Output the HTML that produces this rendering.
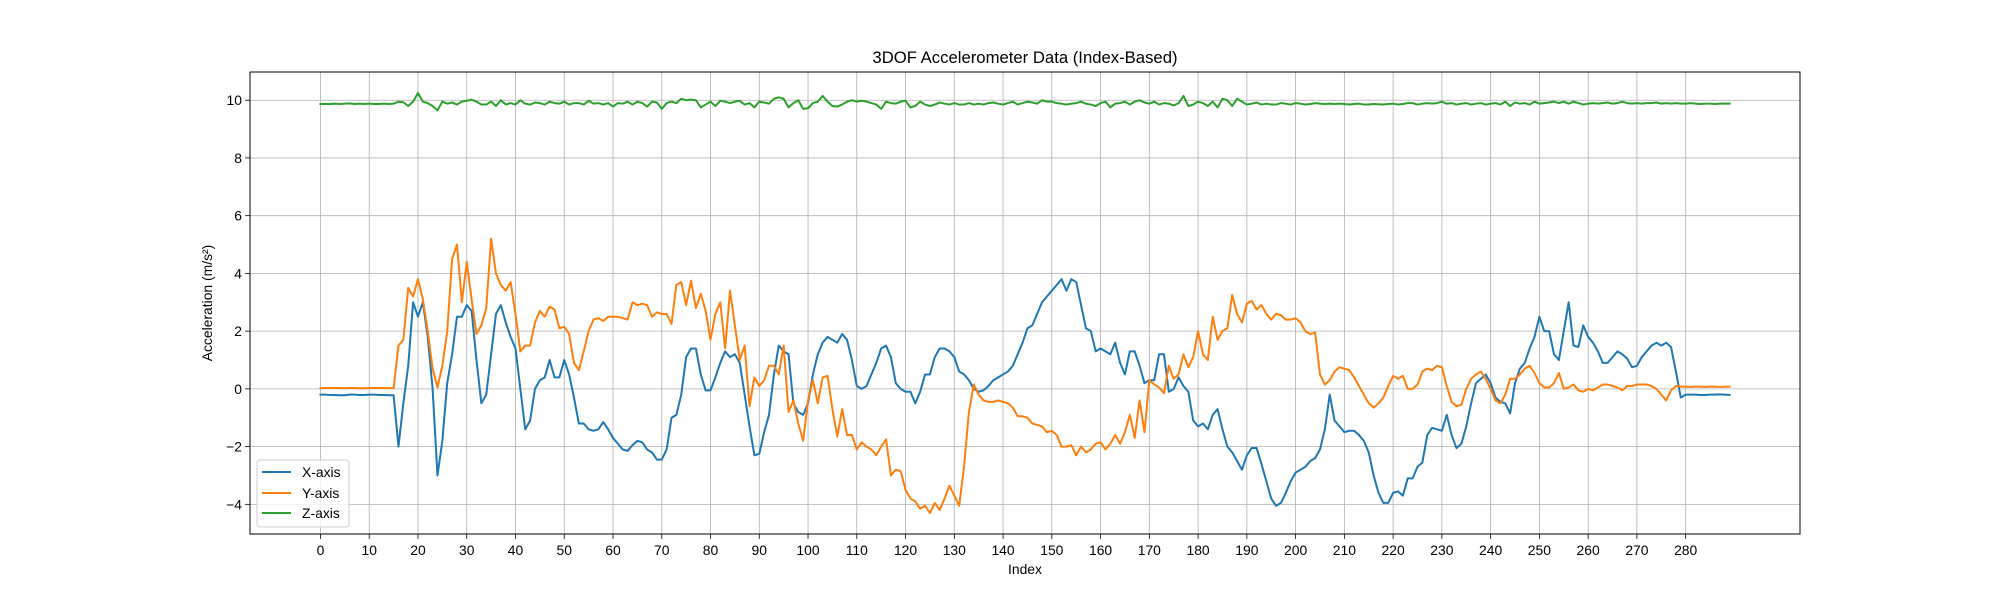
<!DOCTYPE html>
<html><head><meta charset="utf-8"><style>
html,body{margin:0;padding:0;background:#fff;}
svg{display:block;font-family:"Liberation Sans","DejaVu Sans",sans-serif;}
</style></head><body>
<svg id="chart" width="2000" height="600" xmlns="http://www.w3.org/2000/svg">
<rect width="2000" height="600" fill="#fff"/>
<text x="1025" y="63" font-size="16.7" text-anchor="middle" fill="#000">3DOF Accelerometer Data (Index-Based)</text>
<g id="grid"></g>
<g id="series"></g>
<rect x="250" y="72" width="1550" height="462" fill="none" stroke="#000" stroke-width="1"/>
<g id="ticks"></g>
<text x="1025" y="574" font-size="13.9" text-anchor="middle">Index</text>
<text transform="translate(212,303) rotate(-90)" font-size="13.9" text-anchor="middle">Acceleration (m/s²)</text>
<g>
<rect x="257" y="460" width="92" height="67" rx="3" fill="#fff" fill-opacity="0.8" stroke="#ccc"/>
<line x1="262" y1="472" x2="291" y2="472" stroke="#1f77b4" stroke-width="2"/>
<text x="302" y="477" font-size="13.9">X-axis</text>
<line x1="262" y1="493" x2="291" y2="493" stroke="#ff7f0e" stroke-width="2"/>
<text x="302" y="498" font-size="13.9">Y-axis</text>
<line x1="262" y1="513" x2="291" y2="513" stroke="#2ca02c" stroke-width="2"/>
<text x="302" y="518" font-size="13.9">Z-axis</text>
</g>
</svg>
<script>
const xTicks = [0,10,20,30,40,50,60,70,80,90,100,110,120,130,140,150,160,170,180,190,200,210,220,230,240,250,260,270,280];
const yTicks = [-4,-2,0,2,4,6,8,10];
const xSeries = [-0.2,-0.2,-0.21,-0.21,-0.22,-0.22,-0.2,-0.2,-0.21,-0.21,-0.2,-0.2,-0.21,-0.21,-0.22,-0.22,
-2.0,-0.5,0.8,3.0,2.5,3.0,1.8,0.0,-3.0,-1.8,0.2,1.2,2.5,2.5,2.9,2.7,1.0,-0.5,-0.2,1.2,2.6,2.9,2.3,1.8,1.4,0.0,-1.4,-1.1,0.0,0.3,0.4,1.0,0.4,0.4,1.0,0.5,-0.3,-1.2,-1.2,-1.4,-1.45,-1.4,-1.15,-1.4,-1.7,-1.9,-2.1,-2.15,-1.95,-1.8,-1.85,-2.1,-2.2,-2.45,-2.45,-2.1,-1.0,-0.9,-0.2,1.1,1.4,1.4,0.5,-0.05,-0.05,0.4,0.9,1.3,1.1,1.2,0.9,-0.2,-1.3,-2.3,-2.25,-1.5,-0.9,0.5,1.5,1.3,1.2,-0.5,-0.8,-0.9,-0.5,0.5,1.2,1.6,1.8,1.7,1.6,1.9,1.7,1.0,0.1,0.0,0.1,0.5,0.9,1.4,1.5,1.1,0.2,0.0,-0.1,-0.1,-0.5,-0.1,0.5,0.5,1.1,1.4,1.4,1.3,1.1,0.6,0.5,0.3,0.0,-0.1,-0.05,0.1,0.3,0.4,0.5,0.6,0.8,1.2,1.6,2.1,2.2,2.6,3.0,3.2,3.4,3.6,3.8,3.4,3.8,3.7,2.9,2.1,2.0,1.3,1.4,1.3,1.2,1.6,0.9,0.5,1.3,1.3,0.8,0.2,0.3,0.3,1.2,1.2,-0.1,0.0,0.4,0.1,-0.1,-1.1,-1.3,-1.2,-1.4,-0.9,-0.7,-1.4,-2.0,-2.2,-2.5,-2.8,-2.3,-2.05,-2.05,-2.6,-3.2,-3.8,-4.05,-3.95,-3.6,-3.2,-2.9,-2.8,-2.7,-2.5,-2.4,-2.1,-1.4,-0.2,-1.1,-1.3,-1.5,-1.45,-1.45,-1.6,-1.8,-2.2,-3.0,-3.6,-3.95,-3.95,-3.6,-3.55,-3.7,-3.1,-3.1,-2.7,-2.55,-1.6,-1.35,-1.4,-1.45,-0.9,-1.6,-2.05,-1.9,-1.3,-0.5,0.2,0.35,0.5,0.2,-0.3,-0.45,-0.5,-0.85,0.2,0.7,0.9,1.4,1.8,2.5,2.0,2.0,1.2,1.0,2.0,3.0,1.5,1.45,2.2,1.8,1.6,1.3,0.9,0.9,1.1,1.3,1.2,1.05,0.75,0.8,1.1,1.3,1.5,1.6,1.5,1.6,1.45,0.6,-0.3,-0.2,
-0.2,-0.2,-0.21,-0.21,-0.2,-0.2,-0.19,-0.2,-0.21];
const ySeries = [0.02,0.03,0.03,0.03,0.03,0.02,0.03,0.03,0.02,0.02,0.03,0.03,0.03,0.03,0.02,0.03,
1.5,1.7,3.5,3.2,3.8,3.1,2.0,0.7,0.05,0.8,2.0,4.5,5.0,3.0,4.4,3.1,1.9,2.2,2.8,5.2,4.0,3.6,3.4,3.7,2.6,1.3,1.5,1.5,2.3,2.7,2.5,2.85,2.75,2.1,2.15,1.9,0.9,0.65,1.3,2.0,2.4,2.45,2.35,2.5,2.5,2.5,2.45,2.4,3.0,2.9,2.95,2.9,2.5,2.65,2.6,2.6,2.25,3.6,3.7,2.9,3.75,2.8,3.3,2.7,1.7,2.6,3.0,1.4,3.4,2.2,1.0,1.5,-0.6,0.4,0.1,0.3,0.8,0.8,0.5,1.5,-0.8,-0.4,-1.2,-1.8,-0.4,0.3,-0.5,0.4,0.45,-0.7,-1.65,-0.7,-1.6,-1.6,-2.1,-1.85,-2.0,-2.1,-2.3,-2.0,-1.75,-3.0,-2.8,-2.85,-3.5,-3.8,-3.9,-4.15,-4.05,-4.3,-3.95,-4.2,-3.8,-3.35,-3.7,-4.05,-2.7,-0.8,0.15,-0.2,-0.4,-0.45,-0.45,-0.4,-0.45,-0.5,-0.65,-0.95,-0.95,-1.0,-1.2,-1.25,-1.3,-1.5,-1.45,-1.6,-2.0,-2.0,-1.95,-2.3,-2.0,-2.2,-2.1,-1.9,-1.85,-2.1,-1.9,-1.6,-1.9,-1.5,-0.9,-1.7,-0.4,-1.5,0.3,0.15,0.05,-0.15,0.8,0.35,0.5,1.2,0.75,1.1,2.0,1.2,1.0,2.5,1.7,2.0,2.1,3.25,2.6,2.3,2.95,3.05,2.75,2.9,2.6,2.4,2.6,2.55,2.4,2.4,2.45,2.3,2.0,1.9,1.95,0.5,0.15,0.3,0.6,0.75,0.7,0.65,0.4,0.1,-0.2,-0.5,-0.65,-0.5,-0.3,0.1,0.45,0.35,0.45,0.0,0.0,0.15,0.6,0.7,0.65,0.8,0.75,0.1,-0.45,-0.6,-0.55,0.0,0.35,0.5,0.6,0.35,0.0,-0.4,-0.5,-0.2,0.35,0.35,0.5,0.7,0.8,0.55,0.2,0.05,0.05,0.2,0.55,0.0,0.05,0.15,-0.05,-0.1,0.0,-0.05,0.05,0.15,0.15,0.1,0.05,-0.05,0.1,0.1,0.15,0.15,0.15,0.1,0.0,-0.2,-0.4,-0.05,0.1,
0.08,0.08,0.07,0.08,0.08,0.07,0.08,0.08,0.07,0.08,0.08];
const zSeries = [9.87,9.87,9.87,9.88,9.87,9.88,9.89,9.87,9.88,9.87,9.88,9.87,9.87,9.88,9.87,9.88,
9.95,9.93,9.8,9.95,10.25,9.95,9.9,9.8,9.65,9.95,9.88,9.92,9.85,9.95,9.98,10.02,
9.95,9.85,9.85,9.95,9.8,10.0,9.85,9.9,9.85,10.0,9.88,9.85,9.92,9.9,9.85,9.95,
9.9,9.88,9.95,9.85,9.9,9.9,9.85,9.98,9.88,9.9,9.85,9.9,9.78,9.9,9.88,9.95,
9.85,9.95,9.9,9.78,9.95,9.92,9.7,9.9,9.95,9.9,10.05,10.0,10.02,10.0,9.75,9.85,
9.95,9.8,9.98,9.95,9.9,9.95,9.98,9.85,9.9,9.75,9.95,9.92,9.88,10.05,10.1,10.05,
9.75,9.9,10.0,9.7,9.72,9.9,9.95,10.15,9.95,9.8,9.78,9.85,9.95,10.0,9.95,9.98,
9.95,9.9,9.85,9.7,9.95,9.9,9.88,9.95,9.98,9.75,9.8,9.95,9.85,9.8,9.85,9.92,
9.88,9.85,9.9,9.85,9.85,9.9,9.85,9.88,9.85,9.9,9.92,9.88,9.85,9.9,9.95,9.85,
9.9,9.95,9.92,9.88,10.0,9.95,9.95,9.9,9.88,9.85,9.88,9.9,9.95,9.88,9.85,9.8,
9.9,9.95,9.75,9.88,9.9,9.95,9.85,9.95,10.0,9.92,9.88,9.95,9.85,9.9,9.88,9.82,
9.9,10.15,9.8,9.85,9.95,9.9,9.8,9.95,9.75,10.05,10.0,9.8,10.05,9.95,9.85,9.88,
9.92,9.85,9.88,9.85,9.85,9.9,9.88,9.85,9.9,9.88,9.85,9.87,9.9,9.88,9.87,9.88,
9.87,9.88,9.87,9.85,9.87,9.88,9.85,9.85,9.87,9.86,9.85,9.87,9.88,9.85,9.87,9.9,
9.9,9.85,9.88,9.9,9.88,9.9,9.95,9.88,9.9,9.85,9.88,9.9,9.85,9.88,9.9,9.85,
9.88,9.9,9.85,9.95,9.8,9.92,9.88,9.9,9.85,9.95,9.88,9.9,9.92,9.95,9.9,9.95,
9.88,9.95,9.9,9.85,9.88,9.9,9.88,9.9,9.92,9.88,9.9,9.95,9.9,9.88,9.9,9.88,
9.9,9.9,9.92,9.88,9.9,9.88,9.9,9.88,9.88,9.9,9.88,9.87,9.88,9.88,9.87,9.88,9.88,9.88];

const NS = 'http://www.w3.org/2000/svg';
const L = 250, R = 1800, T = 72, B = 534;
const n = Math.max(xSeries.length, ySeries.length, zSeries.length);
const xMin = -(n - 1) * 0.05, xMax = (n - 1) * 1.05;
const all = xSeries.concat(ySeries, zSeries);
const dMin = Math.min(...all), dMax = Math.max(...all);
const yMin = dMin - (dMax - dMin) * 0.05, yMax = dMax + (dMax - dMin) * 0.05;
function sx(i) { return L + (i - xMin) / (xMax - xMin) * (R - L); }
function sy(v) { return B - (v - yMin) / (yMax - yMin) * (B - T); }

const grid = document.getElementById('grid');
const ticks = document.getElementById('ticks');
function mk(tag, attrs, parent) {
  const e = document.createElementNS(NS, tag);
  for (const k in attrs) e.setAttribute(k, attrs[k]);
  parent.appendChild(e);
  return e;
}
xTicks.forEach(t => {
  const x = sx(t);
  const g = mk('line', {x1: x, x2: x, y1: T, y2: B, stroke: '#b0b0b0', 'stroke-width': 0.8}, grid);
  
  
  const tk = mk('line', {x1: x, x2: x, y1: B, y2: B + 4.9, stroke: '#000', 'stroke-width': 0.8}, ticks);
  
  
  const lb = mk('text', {x: x, y: B + 21, 'font-size': 13.9, 'text-anchor': 'middle'}, ticks);
  lb.textContent = t;
  
  
});
yTicks.forEach(t => {
  const y = sy(t);
  const g = mk('line', {x1: L, x2: R, y1: y, y2: y, stroke: '#b0b0b0', 'stroke-width': 0.8}, grid);
  
  
  const tk = mk('line', {x1: L - 4.9, x2: L, y1: y, y2: y, stroke: '#000', 'stroke-width': 0.8}, ticks);
  
  
  const lb = mk('text', {x: L - 8, y: y + 5, 'font-size': 13.9, 'text-anchor': 'end'}, ticks);
  lb.textContent = t < 0 ? '\u2212' + Math.abs(t) : t;
  
  
});
const sg = document.getElementById('series');
function drawLine(arr, color, name) {
  const pts = arr.map((v, i) => sx(i).toFixed(2) + ',' + sy(v).toFixed(2)).join(' ');
  const p = mk('polyline', {points: pts, fill: 'none', stroke: color, 'stroke-width': 2, 'stroke-linejoin': 'round', 'stroke-linecap': 'square'}, sg);
  
  
}
drawLine(xSeries, '#1f77b4', 'x-axis-line');
drawLine(ySeries, '#ff7f0e', 'y-axis-line');
drawLine(zSeries, '#2ca02c', 'z-axis-line');
</script>
</body></html>
